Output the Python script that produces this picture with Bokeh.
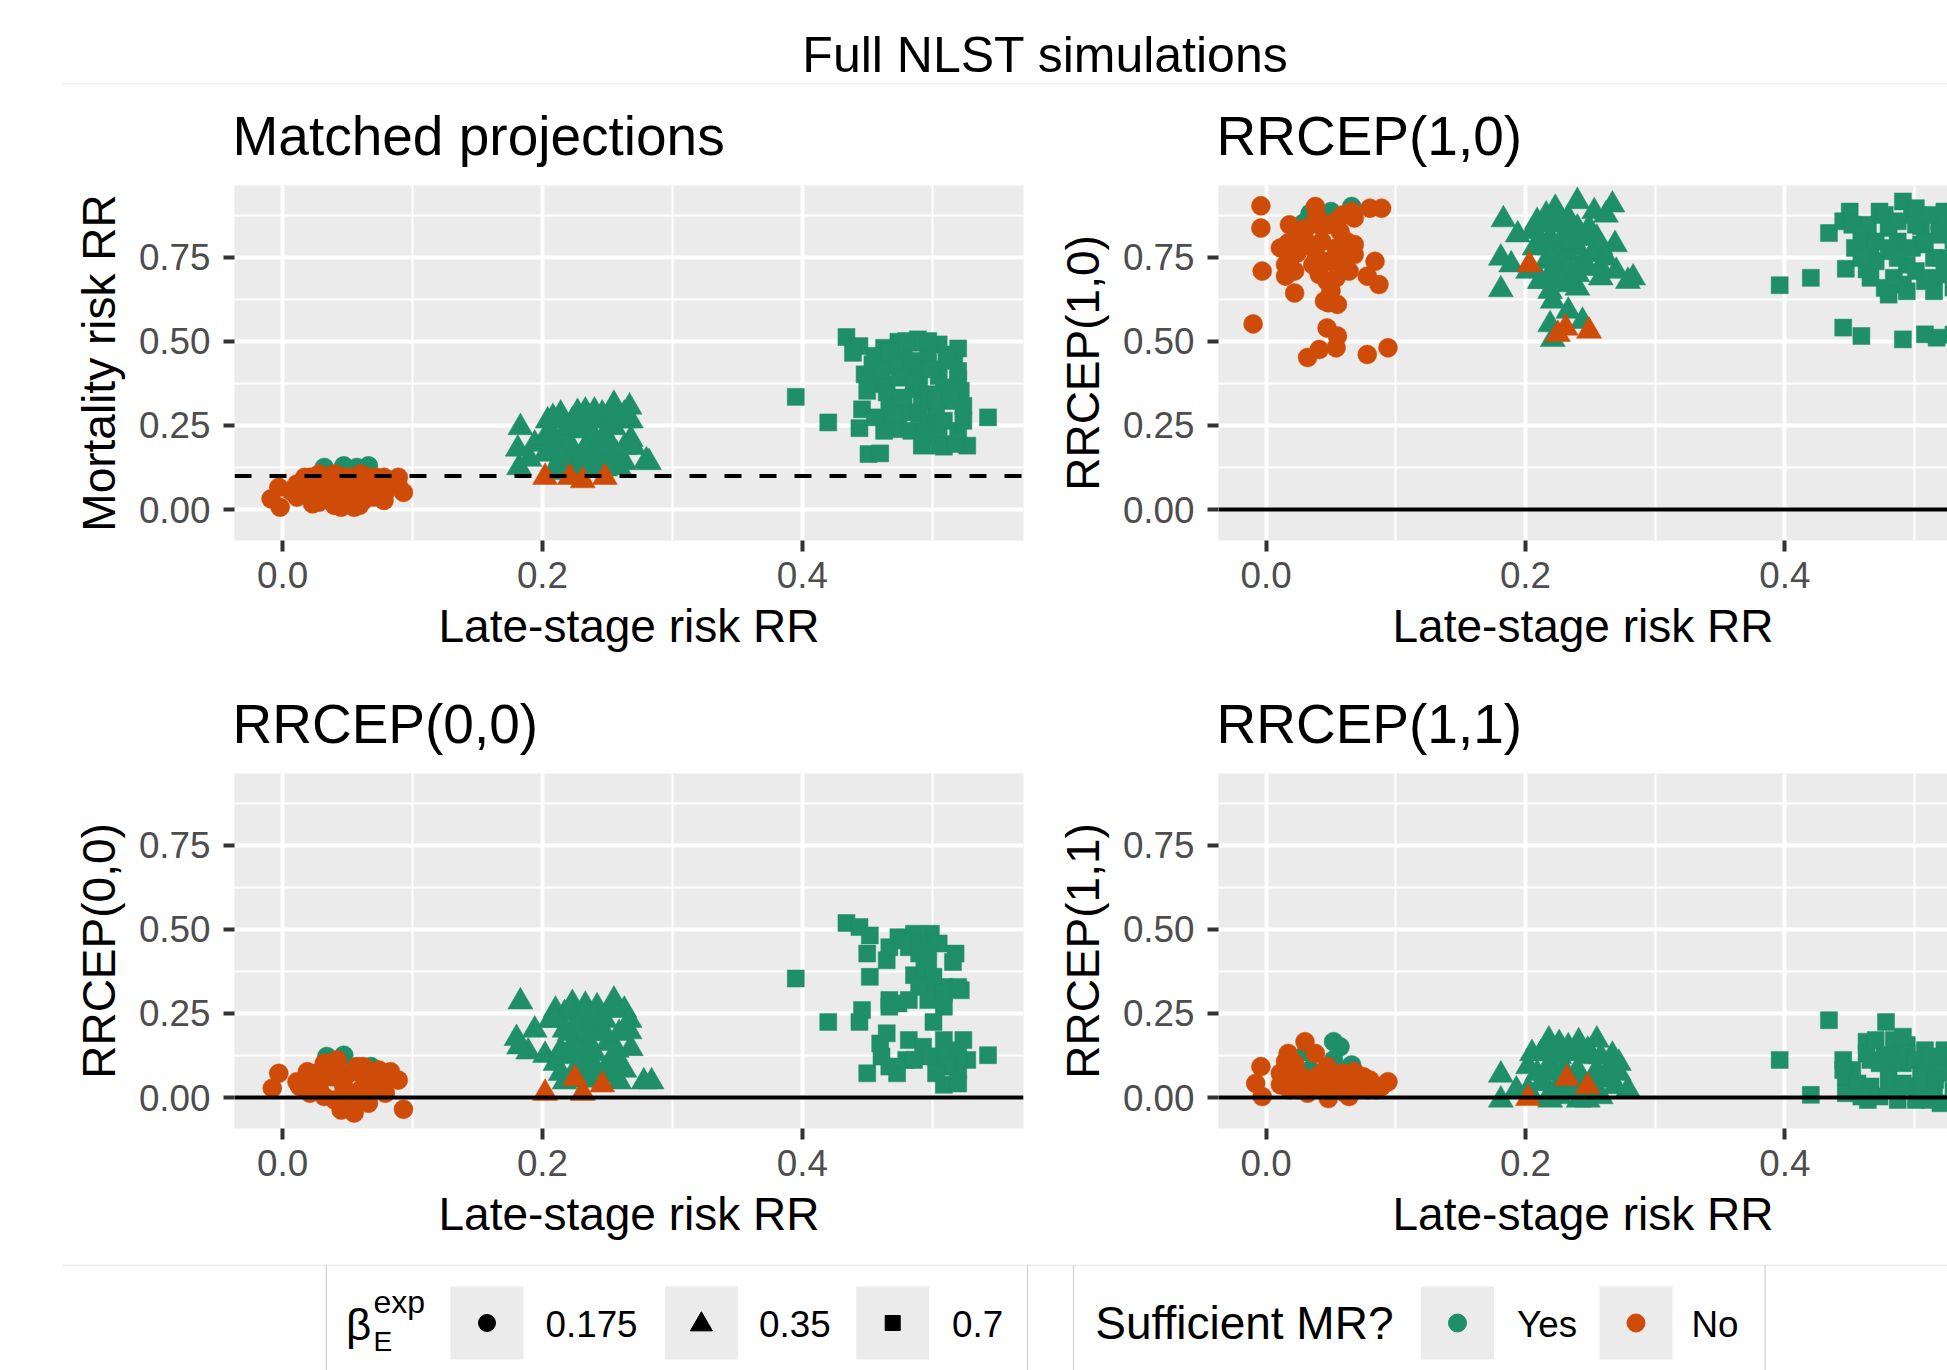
from bokeh.plotting import figure
from bokeh.models import Range1d, FixedTicker, NumeralTickFormatter, ColumnDataSource, Label, Span
from bokeh.layouts import column, row
from bokeh.embed import file_html
from bokeh.resources import INLINE
from bokeh.core.properties import value

FONT = "Liberation Sans"
GREEN = "#1E8F68"
ORANGE = "#CF4C08"
PANEL_BG = "#EBEBEB"

# ---------------- data (x = late-stage risk RR, y = panel measure) ----------------
SUPTITLE = "Full NLST simulations"
PANEL_TITLES = ["Matched projections", "RRCEP(1,0)", "RRCEP(0,0)", "RRCEP(1,1)"]
Y_LABELS = ["Mortality risk RR", "RRCEP(1,0)", "RRCEP(0,0)", "RRCEP(1,1)"]
X_LABEL = "Late-stage risk RR"
REF_LEVELS = [0.1, 0.0, 0.0, 0.0]
REF_DASHED = [True, False, False, False]
X_TICKS = [0.0, 0.2, 0.4]
Y_TICKS = [0.0, 0.25, 0.5, 0.75]

# Panel 1: Matched projections
P1_CIRCLE_YES = [(0.032, 0.125), (0.047, 0.130), (0.066, 0.130), (0.057, 0.125)]
P1_CIRCLE_NO = [(-0.003, 0.066), (-0.009, 0.032), (-0.002, 0.007), (0.011, 0.037), (0.017, 0.096), (0.015, 0.071),
                (0.023, 0.017), (0.026, 0.056), (0.032, 0.086), (0.036, 0.037), (0.040, 0.066), (0.045, 0.007),
                (0.047, 0.096), (0.051, 0.046), (0.055, 0.007), (0.057, 0.076), (0.062, 0.027), (0.066, 0.096),
                (0.070, 0.061), (0.078, 0.096), (0.079, 0.051), (0.089, 0.096), (0.093, 0.051), (0.085, 0.076),
                (0.021, 0.096), (0.028, 0.106), (0.040, 0.106), (0.060, 0.106), (0.043, 0.046), (0.062, 0.056),
                (0.032, 0.037), (0.051, 0.022), (0.021, 0.046), (0.072, 0.096), (0.011, 0.076), (0.025, 0.086),
                (0.036, 0.096), (0.051, 0.096), (0.062, 0.096), (0.074, 0.086), (0.081, 0.066), (0.017, 0.056),
                (0.028, 0.066), (0.043, 0.066), (0.055, 0.056), (0.070, 0.037), (0.078, 0.027), (0.028, 0.022),
                (0.040, 0.012), (0.059, 0.012), (0.006, 0.056), (0.089, 0.071)]
P1_TRI_YES = [(0.183, 0.244), (0.181, 0.180), (0.194, 0.195), (0.182, 0.125), (0.190, 0.150), (0.202, 0.165),
              (0.208, 0.274), (0.214, 0.284), (0.206, 0.234), (0.217, 0.214), (0.223, 0.264), (0.227, 0.289),
              (0.233, 0.293), (0.240, 0.293), (0.248, 0.264), (0.255, 0.313), (0.267, 0.305), (0.263, 0.284),
              (0.268, 0.264), (0.255, 0.244), (0.268, 0.209), (0.257, 0.165), (0.263, 0.140), (0.280, 0.145),
              (0.282, 0.140), (0.248, 0.155), (0.240, 0.165), (0.236, 0.205), (0.228, 0.234), (0.221, 0.165),
              (0.217, 0.135), (0.225, 0.125), (0.240, 0.125), (0.236, 0.145), (0.210, 0.125), (0.202, 0.214),
              (0.248, 0.224), (0.259, 0.125), (0.242, 0.264), (0.233, 0.244), (0.212, 0.264), (0.219, 0.244),
              (0.236, 0.274), (0.246, 0.284), (0.253, 0.293), (0.263, 0.264), (0.240, 0.214), (0.252, 0.195),
              (0.221, 0.195), (0.210, 0.185), (0.233, 0.175), (0.244, 0.185), (0.263, 0.185), (0.214, 0.155),
              (0.229, 0.145), (0.240, 0.145), (0.255, 0.145), (0.270, 0.185), (0.204, 0.264), (0.248, 0.121),
              (0.233, 0.116), (0.217, 0.111)]
P1_TRI_NO = [(0.202, 0.096), (0.231, 0.086), (0.221, 0.096), (0.248, 0.096)]
P1_SQ_YES = [(0.434, 0.513), (0.444, 0.486), (0.395, 0.335), (0.420, 0.259), (0.446, 0.298), (0.444, 0.242),
             (0.451, 0.165), (0.460, 0.167), (0.492, 0.190), (0.509, 0.187), (0.527, 0.190), (0.518, 0.195),
             (0.543, 0.274), (0.520, 0.479), (0.517, 0.450), (0.505, 0.491), (0.489, 0.506), (0.474, 0.499),
             (0.463, 0.481), (0.456, 0.457), (0.467, 0.451), (0.478, 0.466), (0.497, 0.461), (0.448, 0.402),
             (0.453, 0.377), (0.463, 0.373), (0.465, 0.348), (0.482, 0.412), (0.490, 0.387), (0.495, 0.432),
             (0.505, 0.397), (0.520, 0.387), (0.522, 0.353), (0.509, 0.363), (0.513, 0.323), (0.524, 0.308),
             (0.503, 0.303), (0.492, 0.323), (0.480, 0.289), (0.467, 0.308), (0.467, 0.259), (0.474, 0.239),
             (0.497, 0.254), (0.505, 0.234), (0.509, 0.264), (0.486, 0.358), (0.484, 0.442), (0.471, 0.427),
             (0.490, 0.496), (0.499, 0.417), (0.439, 0.466), (0.454, 0.432), (0.461, 0.412), (0.475, 0.392),
             (0.486, 0.373), (0.497, 0.343), (0.503, 0.328), (0.514, 0.338), (0.520, 0.412), (0.511, 0.442),
             (0.478, 0.333), (0.471, 0.284), (0.463, 0.234), (0.484, 0.234), (0.494, 0.219), (0.505, 0.190),
             (0.520, 0.234), (0.524, 0.264), (0.490, 0.284), (0.456, 0.274), (0.450, 0.353), (0.480, 0.501),
             (0.497, 0.501), (0.512, 0.461), (0.467, 0.471)]
P1_SQ_NO = []

# Panel 2: RRCEP(1,0)
P2_CIRCLE_YES = [(0.034, 0.881), (0.050, 0.886), (0.066, 0.901), (0.029, 0.852)]
P2_CIRCLE_NO = [(-0.004, 0.903), (-0.004, 0.837), (-0.003, 0.709), (-0.010, 0.552), (0.018, 0.847), (0.011, 0.778),
                (0.017, 0.793), (0.015, 0.728), (0.015, 0.694), (0.022, 0.709), (0.022, 0.644), (0.024, 0.763),
                (0.032, 0.793), (0.031, 0.837), (0.038, 0.901), (0.039, 0.872), (0.041, 0.847), (0.039, 0.753),
                (0.041, 0.699), (0.045, 0.620), (0.047, 0.679), (0.048, 0.738), (0.054, 0.778), (0.057, 0.827),
                (0.059, 0.876), (0.066, 0.886), (0.068, 0.867), (0.062, 0.797), (0.057, 0.709), (0.054, 0.689),
                (0.064, 0.709), (0.068, 0.788), (0.068, 0.758), (0.048, 0.615), (0.055, 0.610), (0.047, 0.540),
                (0.055, 0.516), (0.054, 0.481), (0.041, 0.476), (0.032, 0.452), (0.078, 0.694), (0.084, 0.738),
                (0.087, 0.669), (0.080, 0.896), (0.089, 0.896), (0.078, 0.461), (0.094, 0.481), (0.036, 0.778),
                (0.025, 0.817), (0.047, 0.847), (0.054, 0.857), (0.061, 0.738), (0.043, 0.797), (0.036, 0.728),
                (0.018, 0.738), (0.050, 0.649)]
P2_TRI_YES = [(0.183, 0.862), (0.194, 0.817), (0.181, 0.748), (0.189, 0.728), (0.181, 0.654), (0.205, 0.827),
              (0.209, 0.857), (0.216, 0.876), (0.223, 0.896), (0.225, 0.847), (0.233, 0.867), (0.240, 0.916),
              (0.240, 0.837), (0.253, 0.886), (0.267, 0.906), (0.262, 0.876), (0.249, 0.837), (0.255, 0.807),
              (0.269, 0.788), (0.258, 0.778), (0.240, 0.778), (0.226, 0.788), (0.219, 0.778), (0.216, 0.738),
              (0.225, 0.748), (0.226, 0.709), (0.202, 0.709), (0.211, 0.679), (0.219, 0.649), (0.233, 0.669),
              (0.240, 0.659), (0.258, 0.718), (0.258, 0.689), (0.270, 0.709), (0.279, 0.679), (0.283, 0.689),
              (0.221, 0.620), (0.233, 0.590), (0.219, 0.550), (0.244, 0.560), (0.221, 0.506), (0.233, 0.758),
              (0.244, 0.738), (0.212, 0.797), (0.219, 0.807), (0.230, 0.817), (0.237, 0.797), (0.244, 0.807),
              (0.219, 0.748), (0.233, 0.718), (0.240, 0.699), (0.219, 0.699), (0.212, 0.679), (0.226, 0.679),
              (0.248, 0.718), (0.251, 0.758), (0.262, 0.748), (0.207, 0.778), (0.233, 0.847), (0.219, 0.847)]
P2_TRI_NO = [(0.203, 0.728), (0.231, 0.540), (0.249, 0.531), (0.225, 0.521)]
P2_SQ_YES = [(0.396, 0.667), (0.420, 0.689), (0.434, 0.822), (0.447, 0.716), (0.445, 0.541), (0.459, 0.516),
             (0.450, 0.886), (0.445, 0.857), (0.454, 0.778), (0.463, 0.714), (0.466, 0.768), (0.473, 0.886),
             (0.480, 0.837), (0.477, 0.659), (0.491, 0.916), (0.498, 0.876), (0.487, 0.797), (0.494, 0.728),
             (0.491, 0.669), (0.505, 0.842), (0.508, 0.679), (0.491, 0.506), (0.508, 0.521), (0.517, 0.511),
             (0.470, 0.738), (0.483, 0.768), (0.505, 0.788), (0.515, 0.748), (0.519, 0.857), (0.515, 0.649),
             (0.464, 0.847), (0.501, 0.896), (0.530, 0.800), (0.535, 0.700), (0.540, 0.850), (0.530, 0.520),
             (0.545, 0.750), (0.530, 0.660), (0.452, 0.847), (0.459, 0.817), (0.470, 0.797), (0.480, 0.778),
             (0.487, 0.748), (0.498, 0.778), (0.508, 0.797), (0.519, 0.817), (0.477, 0.876), (0.487, 0.857),
             (0.501, 0.847), (0.512, 0.876), (0.459, 0.748), (0.466, 0.689), (0.484, 0.689), (0.501, 0.709),
             (0.512, 0.689), (0.523, 0.699), (0.494, 0.649), (0.480, 0.639), (0.523, 0.886), (0.521, 0.748)]
P2_SQ_NO = []

# Panel 3: RRCEP(0,0)
P3_CIRCLE_YES = [(0.034, 0.122), (0.047, 0.126), (0.068, 0.092)]
P3_CIRCLE_NO = [(-0.003, 0.072), (-0.008, 0.028), (0.011, 0.047), (0.019, 0.077), (0.021, 0.013), (0.032, 0.102),
                (0.032, 0.003), (0.042, 0.112), (0.038, 0.062), (0.049, -0.027), (0.055, -0.046), (0.057, 0.092),
                (0.047, 0.033), (0.062, 0.062), (0.066, -0.017), (0.059, -0.007), (0.074, 0.052), (0.079, 0.013),
                (0.083, 0.077), (0.089, 0.052), (0.093, -0.035), (0.051, 0.013), (0.025, 0.052), (0.040, -0.007),
                (0.017, 0.047), (0.070, 0.023), (0.028, 0.033), (0.045, -0.037), (0.060, 0.023), (0.025, 0.072),
                (0.040, 0.082), (0.051, 0.072), (0.062, 0.092), (0.074, 0.082), (0.013, 0.033), (0.028, 0.023),
                (0.043, -0.007), (0.066, 0.013), (0.078, 0.038), (0.036, 0.102)]
P3_TRI_YES = [(0.183, 0.285), (0.180, 0.176), (0.194, 0.201), (0.189, 0.136), (0.202, 0.126), (0.182, 0.151),
              (0.210, 0.260), (0.217, 0.250), (0.223, 0.280), (0.233, 0.275), (0.242, 0.270), (0.255, 0.290),
              (0.263, 0.260), (0.267, 0.230), (0.267, 0.196), (0.268, 0.146), (0.257, 0.141), (0.257, 0.102),
              (0.259, 0.047), (0.278, 0.047), (0.284, 0.047), (0.255, 0.067), (0.240, 0.062), (0.248, 0.082),
              (0.233, 0.102), (0.217, 0.122), (0.214, 0.072), (0.217, 0.047), (0.225, 0.171), (0.236, 0.161),
              (0.240, 0.201), (0.217, 0.201), (0.206, 0.230), (0.248, 0.230), (0.233, 0.230), (0.225, 0.211),
              (0.250, 0.161), (0.233, 0.131), (0.210, 0.230), (0.221, 0.260), (0.233, 0.260), (0.240, 0.240),
              (0.252, 0.260), (0.221, 0.191), (0.236, 0.191), (0.248, 0.191), (0.259, 0.191), (0.225, 0.141),
              (0.240, 0.131), (0.255, 0.122), (0.210, 0.102), (0.225, 0.082), (0.240, 0.092), (0.233, 0.052),
              (0.263, 0.082), (0.214, 0.141)]
P3_TRI_NO = [(0.202, 0.013), (0.231, 0.013), (0.246, 0.038), (0.225, 0.057)]
P3_SQ_YES = [(0.434, 0.519), (0.444, 0.507), (0.452, 0.482), (0.395, 0.354), (0.420, 0.225), (0.446, 0.260),
             (0.444, 0.225), (0.450, 0.428), (0.452, 0.359), (0.465, 0.408), (0.465, 0.191), (0.467, 0.290),
             (0.474, 0.477), (0.486, 0.487), (0.490, 0.428), (0.499, 0.487), (0.505, 0.458), (0.518, 0.428),
             (0.516, 0.403), (0.486, 0.364), (0.497, 0.339), (0.509, 0.329), (0.522, 0.319), (0.509, 0.270),
             (0.501, 0.225), (0.474, 0.280), (0.482, 0.171), (0.493, 0.151), (0.509, 0.171), (0.524, 0.171),
             (0.543, 0.126), (0.527, 0.112), (0.461, 0.122), (0.450, 0.072), (0.473, 0.072), (0.480, 0.112),
             (0.505, 0.122), (0.509, 0.038), (0.520, 0.042), (0.507, 0.092), (0.520, 0.082), (0.497, 0.389),
             (0.482, 0.447), (0.467, 0.447), (0.478, 0.467), (0.490, 0.458), (0.497, 0.438), (0.494, 0.388),
             (0.501, 0.359), (0.490, 0.329), (0.482, 0.290), (0.467, 0.270), (0.497, 0.290), (0.509, 0.309),
             (0.520, 0.329), (0.512, 0.141), (0.497, 0.122), (0.486, 0.112), (0.520, 0.122), (0.512, 0.092),
             (0.503, 0.072), (0.467, 0.092), (0.460, 0.161)]
P3_SQ_NO = []

# Panel 4: RRCEP(1,1)
P4_CIRCLE_YES = [(0.052, 0.166), (0.057, 0.151), (0.031, 0.136), (0.034, 0.082), (0.052, 0.112), (0.066, 0.097)]
P4_CIRCLE_NO = [(-0.004, 0.092), (-0.008, 0.042), (-0.003, 0.003), (0.011, 0.038), (0.015, 0.107), (0.017, 0.131),
                (0.030, 0.166), (0.038, 0.131), (0.022, 0.062), (0.032, 0.052), (0.025, 0.023), (0.043, 0.072),
                (0.047, 0.092), (0.048, -0.003), (0.057, 0.023), (0.059, 0.072), (0.068, 0.077), (0.064, 0.003),
                (0.080, 0.052), (0.085, 0.023), (0.094, 0.047), (0.054, 0.052), (0.039, 0.033), (0.022, 0.102),
                (0.071, 0.033), (0.025, 0.072), (0.039, 0.062), (0.050, 0.033), (0.064, 0.042), (0.075, 0.062),
                (0.018, 0.023), (0.032, 0.013), (0.061, 0.013), (0.078, 0.023), (0.089, 0.033), (0.011, 0.072)]
P4_TRI_YES = [(0.181, 0.067), (0.181, -0.007), (0.193, 0.023), (0.205, 0.131), (0.218, 0.171), (0.233, 0.151),
              (0.241, 0.166), (0.255, 0.171), (0.251, 0.122), (0.267, 0.126), (0.265, 0.092), (0.279, 0.023),
              (0.258, 0.003), (0.241, -0.007), (0.219, 0.013), (0.209, 0.072), (0.219, 0.102), (0.230, 0.082),
              (0.240, 0.062), (0.255, 0.052), (0.272, 0.072), (0.202, 0.092), (0.212, 0.131), (0.226, 0.122),
              (0.233, 0.033), (0.248, 0.023), (0.202, 0.023), (0.226, 0.003), (0.216, 0.151), (0.226, 0.161),
              (0.237, 0.131), (0.248, 0.141), (0.258, 0.122), (0.219, 0.072), (0.240, 0.082), (0.255, 0.082),
              (0.265, 0.062), (0.212, 0.042), (0.226, 0.042), (0.240, 0.023), (0.255, 0.023), (0.269, 0.033),
              (0.205, 0.003), (0.219, -0.007), (0.248, -0.007), (0.272, 0.102)]
P4_TRI_NO = [(0.202, -0.002), (0.232, 0.057), (0.248, 0.033)]
P4_SQ_YES = [(0.396, 0.112), (0.420, 0.008), (0.434, 0.230), (0.478, 0.225), (0.445, 0.112), (0.447, 0.062),
             (0.447, 0.013), (0.463, 0.166), (0.466, 0.112), (0.464, -0.007), (0.484, 0.171), (0.480, 0.072),
             (0.473, 0.003), (0.494, 0.156), (0.491, 0.102), (0.498, 0.033), (0.501, -0.007), (0.508, 0.141),
             (0.512, 0.072), (0.515, 0.013), (0.519, 0.122), (0.520, -0.017), (0.452, 0.082), (0.477, 0.126),
             (0.505, 0.082), (0.530, 0.100), (0.535, 0.050), (0.540, 0.140), (0.530, 0.020), (0.545, 0.080),
             (0.463, 0.131), (0.473, 0.102), (0.484, 0.122), (0.494, 0.131), (0.501, 0.112), (0.512, 0.122),
             (0.523, 0.141), (0.445, 0.082), (0.456, 0.042), (0.466, 0.033), (0.480, 0.023), (0.491, 0.042),
             (0.505, 0.033), (0.516, 0.052), (0.523, 0.072), (0.459, 0.003), (0.487, -0.007), (0.512, -0.007),
             (0.470, 0.171), (0.491, 0.181)]
P4_SQ_NO = []

PANELS = [
    {"circle": (P1_CIRCLE_YES, P1_CIRCLE_NO), "triangle": (P1_TRI_YES, P1_TRI_NO), "square": (P1_SQ_YES, P1_SQ_NO)},
    {"circle": (P2_CIRCLE_YES, P2_CIRCLE_NO), "triangle": (P2_TRI_YES, P2_TRI_NO), "square": (P2_SQ_YES, P2_SQ_NO)},
    {"circle": (P3_CIRCLE_YES, P3_CIRCLE_NO), "triangle": (P3_TRI_YES, P3_TRI_NO), "square": (P3_SQ_YES, P3_SQ_NO)},
    {"circle": (P4_CIRCLE_YES, P4_CIRCLE_NO), "triangle": (P4_TRI_YES, P4_TRI_NO), "square": (P4_SQ_YES, P4_SQ_NO)},
]

LEGEND_SHAPE_LABELS = ["0.175", "0.35", "0.7"]
LEGEND_SHAPE_MARKERS = ["circle", "triangle", "square"]
LEGEND_MR_TITLE = "Sufficient MR?"
LEGEND_MR_LABELS = ["Yes", "No"]

# ---------------- styling / layout ----------------
MARKER_SIZE = {"circle": 19, "triangle": 25, "square": 17}
TOTAL_W = 1947
HEADER_H = 84
LEGEND_H = 106
FRAME_H = 356


def make_panel(idx, left, top_border, bottom_border):
    if left:
        bl, br, fw, xr = 234, 22, 789, (-0.0371, 0.5703)
    else:
        bl, br, fw, xr = 173, 0, 729, (-0.0367, 0.5254)
    p = figure(width=bl + fw + br, height=top_border + FRAME_H + bottom_border,
               x_range=Range1d(*xr), y_range=Range1d(-0.092, 0.9635),
               min_border_left=bl, min_border_right=br, min_border_top=top_border, min_border_bottom=bottom_border,
               output_backend="svg", toolbar_location=None, title=PANEL_TITLES[idx])
    p.background_fill_color = PANEL_BG
    p.border_fill_color = "white"
    p.outline_line_color = None
    p.title.text_font = FONT
    p.title.text_font_size = "55px"
    p.title.text_font_style = "normal"
    p.title.text_color = "black"
    p.title.align = "left"
    p.title.standoff = 37
    p.title.offset = -2

    p.xaxis.ticker = FixedTicker(ticks=X_TICKS, minor_ticks=[0.1, 0.3, 0.5])
    p.yaxis.ticker = FixedTicker(ticks=Y_TICKS, minor_ticks=[0.125, 0.375, 0.625, 0.875])
    p.xaxis.formatter = NumeralTickFormatter(format="0.0")
    p.yaxis.formatter = NumeralTickFormatter(format="0.00")
    for ax in (p.xaxis, p.yaxis):
        ax.axis_line_color = None
        ax.major_tick_out = 11
        ax.major_tick_in = 0
        ax.minor_tick_out = 0
        ax.minor_tick_in = 0
        ax.major_tick_line_width = 4
        ax.major_tick_line_color = "#333333"
        ax.major_label_text_font = FONT
        ax.major_label_text_font_size = "36.8px"
        ax.major_label_text_color = "#4D4D4D"
        ax.axis_label_text_font = FONT
        ax.axis_label_text_font_size = "46px"
        ax.axis_label_text_font_style = "normal"
        ax.axis_label_text_color = "black"
    p.xaxis.major_label_standoff = 10
    p.yaxis.major_label_standoff = 13
    p.xaxis.axis_label_standoff = 9
    p.yaxis.axis_label_standoff = 11
    p.xaxis.axis_label = X_LABEL
    p.yaxis.axis_label = Y_LABELS[idx]

    for g in (p.xgrid, p.ygrid):
        g.grid_line_color = "white"
        g.grid_line_width = 4
        g.minor_grid_line_color = "white"
        g.minor_grid_line_width = 2

    if REF_DASHED[idx]:
        span = Span(location=REF_LEVELS[idx], dimension="width", line_color="black", line_width=4, line_dash="17 18")
    else:
        span = Span(location=REF_LEVELS[idx], dimension="width", line_color="black", line_width=4)
    p.add_layout(span)

    data = PANELS[idx]
    for shape in ("square", "triangle", "circle"):
        yes, no = data[shape]
        for pts, col in ((yes, GREEN), (no, ORANGE)):
            if not pts:
                continue
            src = ColumnDataSource(dict(x=[a for a, b in pts], y=[b for a, b in pts]))
            p.scatter("x", "y", source=src, marker=shape, size=MARKER_SIZE[shape],
                      fill_color=col, line_color=col, line_width=0.5)
    return p


def blank(width, height):
    p = figure(width=width, height=height, x_range=Range1d(0, width), y_range=Range1d(height, 0),
               output_backend="svg", toolbar_location=None, min_border=0,
               x_axis_location=None, y_axis_location=None)
    p.grid.visible = False
    p.outline_line_color = None
    p.background_fill_color = "white"
    p.border_fill_color = "white"
    return p


# header (y measured downward in pixels)
hdr = blank(TOTAL_W, HEADER_H)
hdr.add_layout(Label(x=1045, y=54, text=SUPTITLE, text_font=FONT, text_font_size="50px",
                     text_align="center", text_baseline="middle", text_color="black"))
hdr.segment(x0=[62], y0=[HEADER_H - 0.75], x1=[TOTAL_W], y1=[HEADER_H - 0.75], line_color="#EBEBEB", line_width=1.5)

# legend (y measured downward in pixels)
leg = blank(TOTAL_W, LEGEND_H)
leg.segment(x0=[62], y0=[0.75], x1=[TOTAL_W], y1=[0.75], line_color="#EBEBEB", line_width=1.5)
vx = [325.8, 1027, 1073, 1764.6]
leg.segment(x0=vx, y0=[0] * 4, x1=vx, y1=[LEGEND_H] * 4, line_color="#D0D0D0", line_width=1.2)

shape_box_x = [486.5, 700.9, 892.2]
mr_box_x = [1457, 1635.5]
KEY_Y = 58.5
leg.rect(x=shape_box_x + mr_box_x, y=[KEY_Y] * 5, width=73, height=73, fill_color=PANEL_BG, line_color=None)
leg.scatter(x=shape_box_x, y=[KEY_Y, KEY_Y + 1.5, KEY_Y], marker=LEGEND_SHAPE_MARKERS,
            size=[17, 22, 15], fill_color="black", line_color="black")
leg.scatter(x=mr_box_x, y=[KEY_Y] * 2, marker="circle", size=18, fill_color=[GREEN, ORANGE],
            line_color=[GREEN, ORANGE])

leg.text(x=[545, 758.5, 951.5, 1516.5, 1691], y=[59.8] * 5, text=LEGEND_SHAPE_LABELS + LEGEND_MR_LABELS,
         text_font=value(FONT), text_font_size=value("36.8px"), text_baseline="middle", text_color="black")
leg.text(x=[1094.7], y=[58.5], text=[LEGEND_MR_TITLE], text_font=value(FONT), text_font_size=value("46px"),
         text_baseline="middle", text_color="black")
leg.text(x=[345.5], y=[60], text=["\u03b2"], text_font=value(FONT), text_font_size=value("44px"),
         text_baseline="middle", text_color="black")
leg.text(x=[373], y=[37.5], text=["exp"], text_font=value(FONT), text_font_size=value("32px"),
         text_baseline="middle", text_color="black")
leg.text(x=[373], y=[77], text=["E"], text_font=value(FONT), text_font_size=value("28px"),
         text_baseline="middle", text_color="black")

# row 1: page 84 -> 672 (frame 184..540); row 2: page 672 -> 1264 (frame 772..1128)
p1 = make_panel(0, True, 100, 132)
p2 = make_panel(1, False, 100, 132)
p3 = make_panel(2, True, 100, 136)
p4 = make_panel(3, False, 100, 136)

layout = column(hdr, row(p1, p2, spacing=0), row(p3, p4, spacing=0), leg, spacing=0)
open("out.html", "w").write(file_html(layout, INLINE))
